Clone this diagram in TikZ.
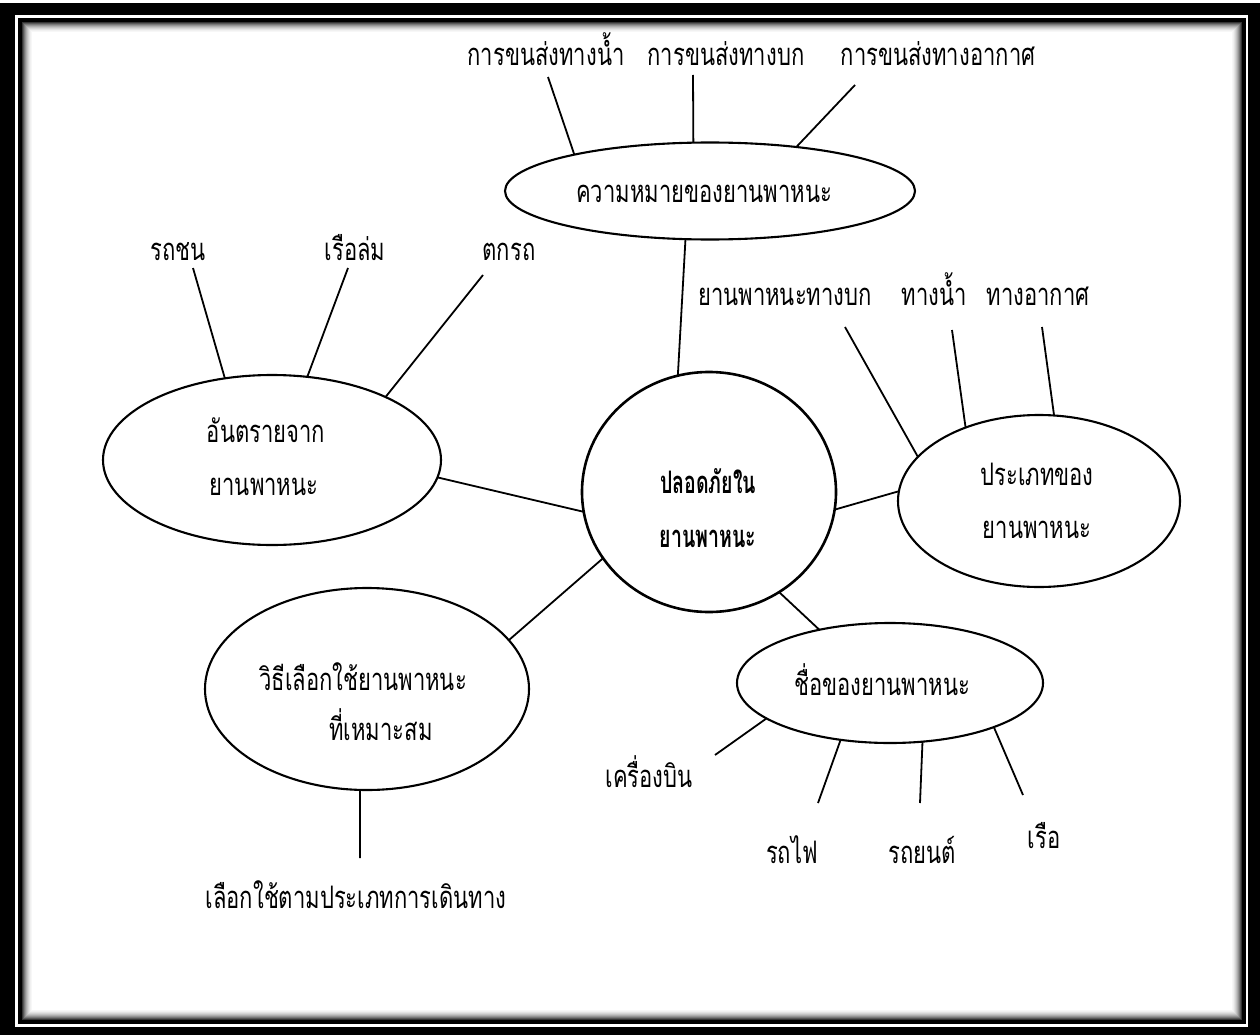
\documentclass[tikz,border=0pt]{standalone}
\usepackage{fontspec}
\usetikzlibrary{shapes.geometric}
\newfontfamily\thai[Script=Thai,FakeStretch=0.71]{Loma}
\newfontfamily\thaibold[Script=Thai,FakeStretch=0.63]{Loma Bold}
\begin{document}
\begin{tikzpicture}[x=1pt,y=-1pt,
  bub/.style={draw, ellipse, line width=2.1pt, inner sep=0pt, outer sep=0pt, fill=white},
  txt/.style={font=\thai\fontsize{31}{36}\selectfont, inner sep=0pt, anchor=base},
  btxt/.style={font=\thaibold\fontsize{31}{36}\selectfont, inner sep=0pt, anchor=base},
  link/.style={line width=1.8pt}]
\useasboundingbox (0,0) rectangle (1260,1035);
% frame
\fill[black] (0,3) rectangle (1260,1035);
\fill[white] (15,15) rectangle (1248,1027);
\fill[black] (18,18) rectangle (1246,1024);
\fill[white] (22,22) rectangle (1242,1020);
\foreach \i/\g in {0/80,1/66,2/53,3/42,4/32,5/24,6/17,7/11,8/6,9/3}{
  \draw[black!\g, line width=1.05pt] (22.5+\i,22.5+\i) rectangle (1241.5-\i,1019.5-\i);
}
% bubbles
\node[bub, minimum width=410, minimum height=97] (T) at (710,191) {};
\node[bub, minimum width=338, minimum height=170] (A) at (272,460) {};
\node[bub, line width=2.6pt, minimum width=254, minimum height=240] (C) at (709,492) {};
\node[bub, minimum width=282, minimum height=172] (R) at (1039,501) {};
\node[bub, minimum width=306, minimum height=120] (B) at (890,683) {};
\node[bub, minimum width=324, minimum height=202] (L) at (367,689) {};
% bubble texts
\node[txt] (Tt) at (704,203) {ความหมายของยานพาหนะ};
\node[txt] (At1) at (266,442) {อันตรายจาก};
\node[txt] (At2) at (264,495) {ยานพาหนะ};
\node[btxt] (Ct1) at (708,493) {ปลอดภัยใน};
\node[btxt] (Ct2) at (708,547) {ยานพาหนะ};
\node[txt] (Rt1) at (1037,485) {ประเภทของ};
\node[txt] (Rt2) at (1037,538) {ยานพาหนะ};
\node[txt] (Bt) at (882,695) {ชื่อของยานพาหนะ};
\node[txt] (Lt1) at (363,690) {วิธีเลือกใช้ยานพาหนะ};
\node[txt] (Lt2) at (381,740) {ที่เหมาะสม};
% leaf labels
\node[txt] (t1) at (546,66) {การขนส่งทางน้ำ};
\node[txt] (t2) at (726,66) {การขนส่งทางบก};
\node[txt] (t3) at (938,66) {การขนส่งทางอากาศ};
\node[txt] (a1) at (178,260) {รถชน};
\node[txt] (a2) at (355,260) {เรือล่ม};
\node[txt] (a3) at (509,260) {ตกรถ};
\node[txt] (r1) at (785,305) {ยานพาหนะทางบก};
\node[txt] (r2) at (934,305) {ทางน้ำ};
\node[txt] (r3) at (1038,305) {ทางอากาศ};
\node[txt] (b1) at (649,787) {เครื่องบิน};
\node[txt] (b2) at (792,863) {รถไฟ};
\node[txt] (b3) at (922,863) {รถยนต์};
\node[txt] (b4) at (1044,848) {เรือ};
\node[txt] (l1) at (356,908) {เลือกใช้ตามประเภทการเดินทาง};
% free ends
\coordinate (wt1) at (548,77);
\coordinate (wt2) at (693,75);
\coordinate (wt3) at (855,85);
\coordinate (wa1) at (193,268);
\coordinate (wa2) at (348,268);
\coordinate (wa3) at (483,275);
\coordinate (wr1) at (845,327);
\coordinate (wr2) at (952,330);
\coordinate (wr3) at (1042,327);
\coordinate (wb1) at (715,755);
\coordinate (wb2) at (818,803);
\coordinate (wb3) at (920,803);
\coordinate (wb4) at (1023,795);
\coordinate (wl1) at (360,858);
% hub links
\draw[link] (C.105.9) -- (T.-117);
\draw[link] (C.-171.1) -- (A.-6.2);
\draw[link] (C.212) -- (L.19.6);
\draw[link] (C.-55.4) -- (B.143);
\draw[link] (C.-8.9) -- (R.176.4);
% leaf links
\draw[link] (T.165.6) -- (wt1);
\draw[link] (T.109.1) -- (wt2);
\draw[link] (T.27.3) -- (wt3);
\draw[link] (A.120.6) -- (wa1);
\draw[link] (A.67.4) -- (wa2);
\draw[link] (A.29.3) -- (wa3);
\draw[link] (R.160) -- (wr1);
\draw[link] (R.135.8) -- (wr2);
\draw[link] (R.80.5) -- (wr3);
\draw[link] (B.-164.6) -- (wb1);
\draw[link] (B.-131.9) -- (wb2);
\draw[link] (B.-61.5) -- (wb3);
\draw[link] (B.-23.5) -- (wb4);
\draw[link] (L.-94) -- (wl1);
\end{tikzpicture}
\end{document}
